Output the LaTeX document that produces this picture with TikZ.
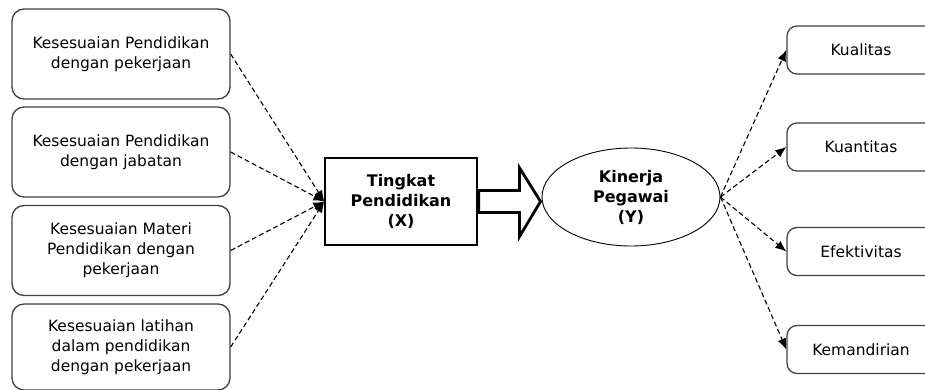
\documentclass[tikz,border=0pt]{standalone}
\usepackage{fontspec}
\setmainfont{DejaVu Sans}
\usetikzlibrary{arrows.meta,calc,shapes.geometric}
\begin{document}
\begin{tikzpicture}[x=1pt,y=-1pt,
  lbox/.style={draw=black!75, line width=1.3pt, rounded corners=12pt, minimum width=218pt, minimum height=90pt, align=center, inner sep=0pt, font=\fontsize{15.5}{20}\selectfont},
  rbox/.style={draw=black!75, line width=1.3pt, rounded corners=10pt, minimum width=148pt, minimum height=48pt, inner sep=0pt, font=\fontsize{15.5}{20}\selectfont},
  xbox/.style={draw=black, line width=1.4pt, minimum width=152pt, minimum height=87pt, align=center, inner sep=0pt, font=\fontsize{16}{20}\selectfont\bfseries},
  ybox/.style={draw=black, line width=0.9pt, ellipse, minimum width=178pt, minimum height=98pt, align=center, inner sep=0pt, font=\fontsize{16}{20}\selectfont\bfseries},
  dline/.style={line width=1.1pt, dash pattern=on 5pt off 3pt, -{Latex[length=11pt,width=9pt]}},
  hollow/.style={line width=2.8pt, line join=miter, fill=white}
]
\clip (0,0) rectangle (925,390);
\fill[white] (0,0) rectangle (925,390);

\node[lbox] (a1) at (121,54) {Kesesuaian Pendidikan\\dengan pekerjaan};
\node[lbox] (a2) at (121,152) {Kesesuaian Pendidikan\\dengan jabatan};
\node[lbox] (a3) at (121,250.5) {Kesesuaian Materi\\Pendidikan dengan\\pekerjaan};
\node[lbox, minimum height=86pt] (a4) at (121,347) {Kesesuaian latihan\\dalam pendidikan\\dengan pekerjaan};

\node[xbox] (x) at (401,201.5) {Tingkat\\Pendidikan\\(X)};
\node[ybox] (y) at (631,197) {Kinerja\\Pegawai\\(Y)};

\node[rbox] (b1) at (861,50) {Kualitas};
\node[rbox] (b2) at (861,147) {Kuantitas};
\node[rbox] (b3) at (861,251.5) {Efektivitas};
\node[rbox] (b4) at (861,349.5) {Kemandirian};

\foreach \n in {a1,a2,a3,a4} \draw[dline] (\n.east) -- (x.west);
\foreach \n in {b1,b2,b3,b4} \draw[dline] (y.east) -- (\n.west);

\coordinate (tip) at ($(x.east -| y.west)+(-1,0)$);
\draw[hollow] ($(x.east)+(1,-11)$) -- ($(tip)+(-21,-11)$) -- ($(tip)+(-21,-33.5)$) -- (tip)
  -- ($(tip)+(-21,35)$) -- ($(tip)+(-21,11)$) -- ($(x.east)+(1,11)$) -- cycle;
\end{tikzpicture}
\end{document}
